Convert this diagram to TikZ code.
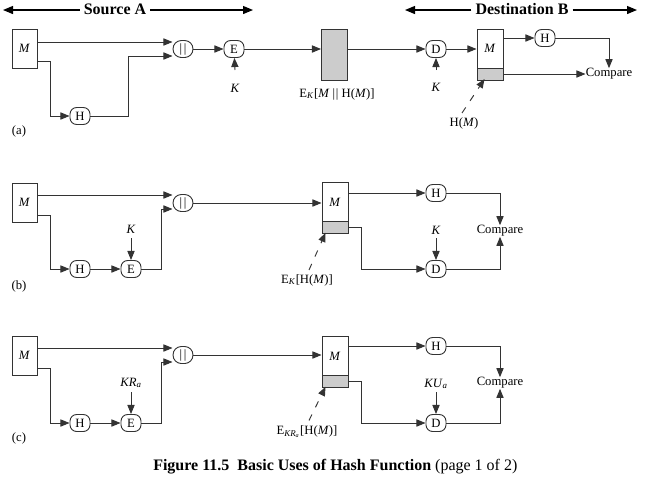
\documentclass[tikz,border=0pt]{standalone}
\usepackage{fontspec}
\setmainfont{Liberation Serif}
\usetikzlibrary{arrows.meta}
\begin{document}
\begin{tikzpicture}[x=0.75pt,y=-0.75pt,
  every node/.style={font=\fontsize{9.5}{11}\selectfont, inner sep=0pt},
  line/.style={draw=black!80, line width=0.7pt},
  arr/.style={line, -{Triangle[length=6.8pt,width=5.4pt]}},
  harr/.style={draw=black, line width=0.9pt, -{Triangle[length=7.5pt,width=6pt]}},
  dasharr/.style={arr, dash pattern=on 5pt off 6pt},
  msgbox/.style={draw=black!80, line width=0.7pt, fill=white, minimum width=18.75pt, minimum height=29.25pt},
  msgboxb/.style={draw=black!80, line width=0.7pt, fill=white, minimum width=19.5pt, minimum height=29.25pt},
  hashbox/.style={draw=black!80, line width=0.7pt, fill=gray!40, minimum width=19.5pt, minimum height=9pt},
  graybox/.style={draw=black!80, line width=0.7pt, fill=gray!40, minimum width=19.5pt, minimum height=38.25pt},
  rnd/.style={draw=black!80, line width=0.7pt, fill=white, rounded corners=5pt, minimum width=15pt, minimum height=12.75pt},
  cat/.style={draw=black!80, line width=0.7pt, fill=white, rounded corners=6.3pt, minimum width=15pt, minimum height=12.75pt},
  lbl/.style={inner sep=0pt},
  hdr/.style={font=\fontsize{12}{14}\selectfont\bfseries, inner sep=3pt}
]
\useasboundingbox (0,0) rectangle (650,480);

% ---------- headers ----------
\coordinate (sa1) at (3,10);
\coordinate (sa2) at (253,10);
\node[hdr] (srcA) at (115,9) {Source A};
\draw[harr] (srcA.west |- sa1) -- (sa1);
\draw[harr] (srcA.east |- sa2) -- (sa2);
\coordinate (db1) at (405,10);
\coordinate (db2) at (637,10);
\node[hdr] (dstB) at (522,9) {Destination B};
\draw[harr] (dstB.west |- db1) -- (db1);
\draw[harr] (dstB.east |- db2) -- (db2);

% ---------- panel (a) ----------
\node[msgbox] (Ma) at (24.5,48.5) {\textit{M}};
\node[cat] (Ca) at (183,49) {|\kern1.2pt|};
\node[rnd] (Ha) at (80,116) {H};
\node[rnd] (Ea) at (234,49) {E};
\node[lbl] (Ka) at (235,88) {\textit{K}};
\node[graybox] (Ga) at (334.5,54.5) {};
\node[lbl] (La) at (337,94) {E\textsubscript{\textit{K}}[\textit{M} |\kern0.6pt| H(\textit{M})]};
\node[rnd] (Da) at (436,49) {D};
\node[lbl] (Kda) at (436,87) {\textit{K}};
\node[msgboxb] (MBa) at (490,48.5) {\textit{M}};
\node[hashbox] (GBa) at (490,74) {};
\node[rnd] (HBa) at (545,38) {H};
\node[lbl] (Cmpa) at (609,74) {Compare};
\node[lbl] (HMa) at (464,123) {H(\textit{M})};
\node[lbl] (pa) at (19,131) {(a)};

\draw[arr] (Ma.east |- 0,42) -- (Ca.west |- 0,42);
\draw[arr] (Ma.east |- 0,61) -- (50,61) |- (Ha);
\draw[arr] (Ha) -- (128,116) |- (Ca.west |- 0,56);
\draw[arr] (Ca) -- (Ea);
\draw[arr] (Ka |- 0,70) -- (Ea);
\draw[arr] (Ea) -- (Ga.west |- Ea);
\draw[arr] (Ga.east |- Da) -- (Da);
\draw[arr] (Kda |- 0,70) -- (Da);
\draw[arr] (Da) -- (MBa.west |- Da);
\draw[arr] (MBa.east |- HBa) -- (HBa);
\draw[arr] (HBa) -| (Cmpa.north);
\draw[arr] (GBa) -- (Cmpa);
\draw[dasharr] ([xshift=-1.5pt,yshift=3pt]HMa.north) -- ([xshift=6pt,yshift=-3.75pt]GBa.west);

% ---------- panel (b) ----------
\node[msgbox] (Mb) at (24.5,202.5) {\textit{M}};
\node[cat] (Cb) at (183,203) {|\kern1.2pt|};
\node[rnd] (Hb) at (80,269) {H};
\node[rnd] (Eb) at (131,269) {E};
\node[lbl] (Kb) at (131,229) {\textit{K}};
\node[msgboxb] (MBb) at (335,202) {\textit{M}};
\node[hashbox] (GBb) at (335,227.5) {};
\node[rnd] (HBb) at (436,193) {H};
\node[lbl] (Cmpb) at (500,231) {Compare};
\node[rnd] (Db) at (436,269) {D};
\node[lbl] (Kdb) at (436,230) {\textit{K}};
\node[lbl] (Lb) at (307,280) {E\textsubscript{\textit{K}}[H(\textit{M})]};
\node[lbl] (pb) at (19,286) {(b)};

\draw[arr] (Mb.east |- 0,195) -- (Cb.west |- 0,195);
\draw[arr] (Mb.east |- 0,215) -- (50,215) |- (Hb);
\draw[arr] (Hb) -- (Eb);
\draw[arr] (Kb |- 0,238) -- (Eb);
\draw[arr] (Eb) -- (161,269) |- (Cb.west |- 0,209);
\draw[arr] (Cb) -- (MBb.west |- Cb);
\draw[arr] (MBb.east |- HBb) -- (HBb);
\draw[arr] (HBb) -| (Cmpb.north);
\draw[arr] (GBb.east) -- (361,227.5) |- (Db);
\draw[arr] (Kdb |- 0,238) -- (Db);
\draw[arr] (Db) -| (Cmpb.south);
\draw[dasharr] ([xshift=1.5pt,yshift=3pt]Lb.north) -- ([xshift=3pt,yshift=-4pt]GBb.west);

% ---------- panel (c) ----------
\node[msgbox] (Mc) at (24.5,355.5) {\textit{M}};
\node[cat] (Cc) at (183,355) {|\kern1.2pt|};
\node[rnd] (Hc) at (80,423) {H};
\node[rnd] (Ec) at (131,423) {E};
\node[lbl] (Kc) at (131,383) {\textit{KR}\textsubscript{\textit{a}}};
\node[msgboxb] (MBc) at (335,356) {\textit{M}};
\node[hashbox] (GBc) at (335,381.5) {};
\node[rnd] (HBc) at (436,346) {H};
\node[lbl] (Cmpc) at (500,383) {Compare};
\node[rnd] (Dc) at (436,423) {D};
\node[lbl] (Kdc) at (436,384) {\textit{KU}\textsubscript{\textit{a}}};
\node[lbl] (Lc) at (307,432) {E\textsubscript{\textit{KR}\textsubscript{\textit{a}}}[H(\textit{M})]};
\node[lbl] (pc) at (19,438) {(c)};

\draw[arr] (Mc.east |- 0,348) -- (Cc.west |- 0,348);
\draw[arr] (Mc.east |- 0,368) -- (50,368) |- (Hc);
\draw[arr] (Hc) -- (Ec);
\draw[arr] (Kc |- 0,392) -- (Ec);
\draw[arr] (Ec) -- (161,423) |- (Cc.west |- 0,362);
\draw[arr] (Cc) -- (MBc.west |- Cc);
\draw[arr] (MBc.east |- HBc) -- (HBc);
\draw[arr] (HBc) -| (Cmpc.north);
\draw[arr] (GBc.east) -- (361,381.5) |- (Dc);
\draw[arr] (Kdc |- 0,392) -- (Dc);
\draw[arr] (Dc) -| (Cmpc.south);
\draw[dasharr] ([xshift=1.5pt,yshift=4pt]Lc.north) -- ([xshift=3pt,yshift=-4pt]GBc.west);

% ---------- caption ----------
\node[anchor=west, font=\fontsize{12}{14}\selectfont] (cap) at (153,467)
  {\textbf{Figure 11.5\ \ Basic Uses of Hash Function} (page 1 of 2)};
\end{tikzpicture}
\end{document}
